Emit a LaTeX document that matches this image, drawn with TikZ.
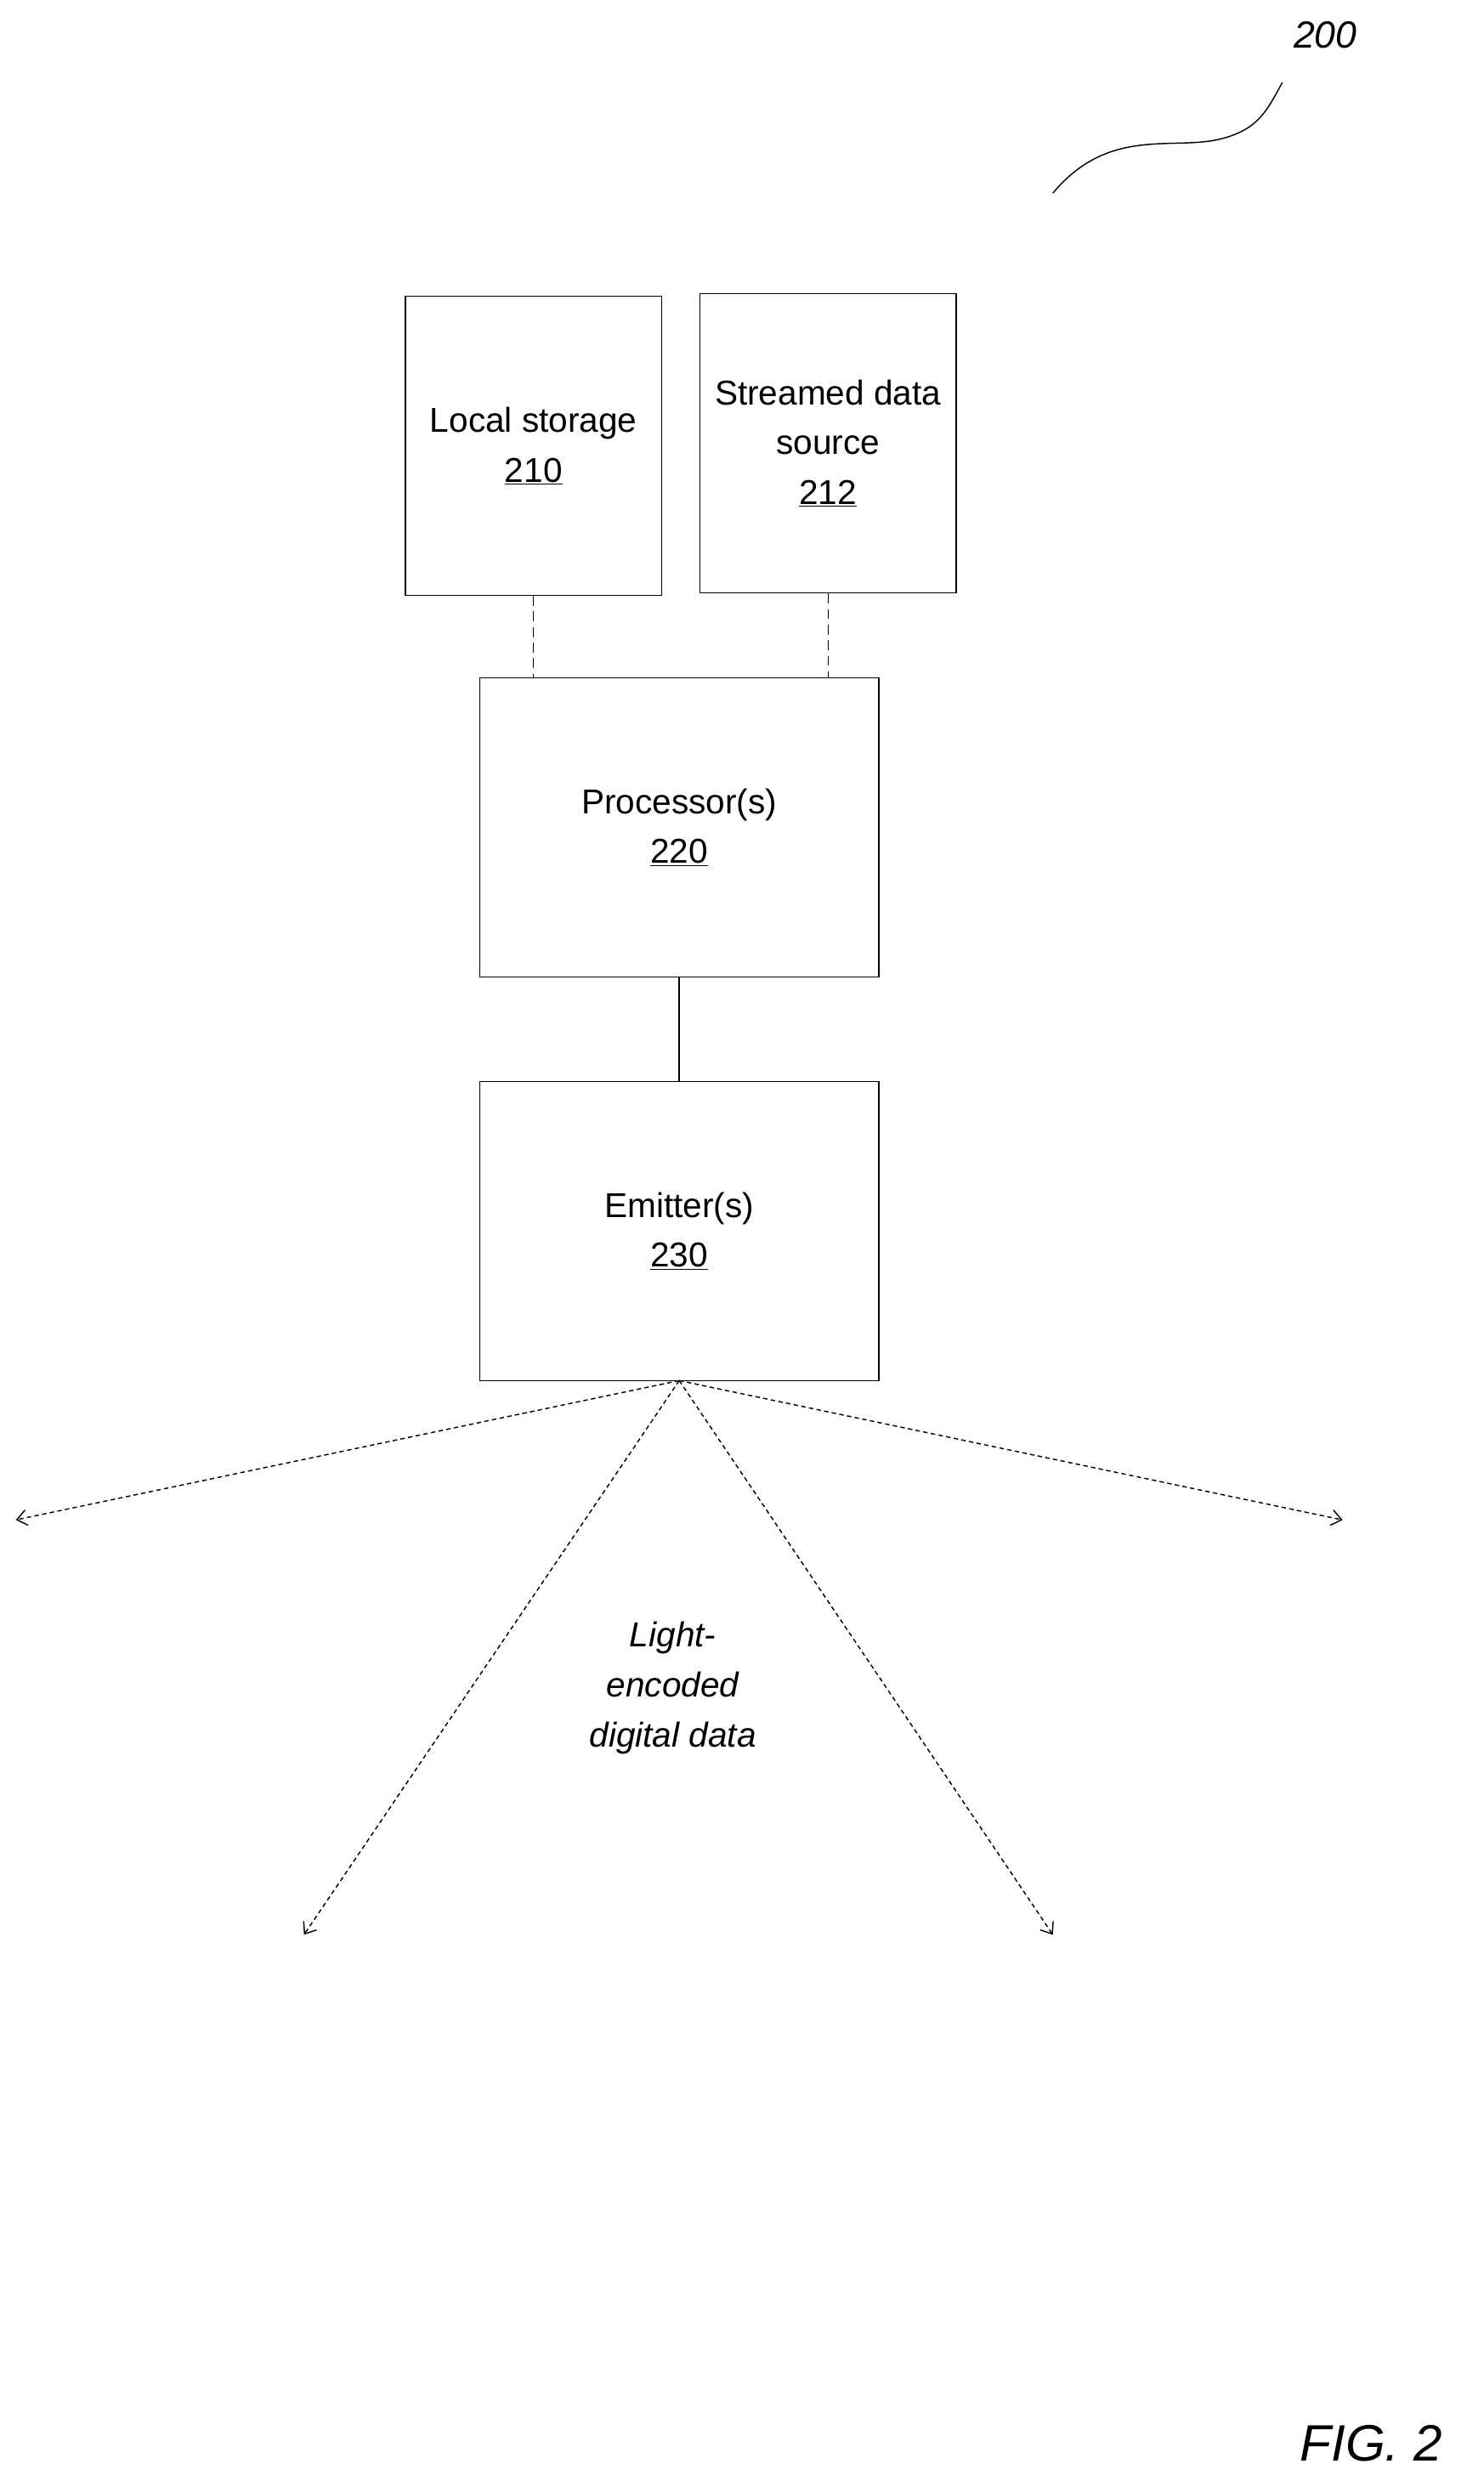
\documentclass[tikz,border=0pt]{standalone}
\usepackage{fontspec}
\setmainfont{Liberation Sans}
\usetikzlibrary{arrows.meta}
\begin{document}
\begin{tikzpicture}[x=0.5mm,y=-0.5mm,
 box/.style={draw,line width=1pt,minimum width=81mm,minimum height=94.5mm,align=center,font=\fontsize{31}{45}\selectfont,inner sep=0pt},
 ray/.style={dashed,dash pattern=on 4pt off 3pt,line width=1.1pt,-{Straight Barb[length=9pt,width=14pt]}},
 link/.style={line width=1.1pt}]
\useasboundingbox (0,0) rectangle (937,1574);
\node[box] (ls) at (337,281.5) {Local storage\\\underline{210}};
\node[box] (sd) at (523,280) {Streamed data\\source\\\underline{212}};
\node[box,minimum width=126mm] (pr) at (429,522.5) {Processor(s)\\\underline{220}};
\node[box,minimum width=126mm] (em) at (429,777.5) {Emitter(s)\\\underline{230}};
\draw[link,dashed,dash pattern=on 9pt off 5pt] (ls.south) -- (ls.south|-pr.north);
\draw[link,dashed,dash pattern=on 9pt off 5pt] (sd.south) -- (sd.south|-pr.north);
\draw[link] (pr) -- (em);
\coordinate (o) at (429,872);
\coordinate (a) at (10,960);
\coordinate (b) at (848,960);
\coordinate (c) at (192,1222);
\coordinate (d) at (665,1222);
\foreach \p in {a,b,c,d} \draw[ray] (o) -- (\p);
\node[align=center,font=\itshape\fontsize{31}{45}\selectfont] (t) at (425,1066) {Light-\\encoded\\digital data};
\node[font=\itshape\fontsize{34}{40}\selectfont] (n) at (837,22) {200};
\draw[line width=1.1pt] (665,122) .. controls (700,80) and (740,95) .. (770,88) .. controls (795,82) and (800,70) .. (810,52);
\node[font=\itshape\fontsize{46}{52}\selectfont] (f) at (866,1543) {FIG. 2};
\end{tikzpicture}
\end{document}
